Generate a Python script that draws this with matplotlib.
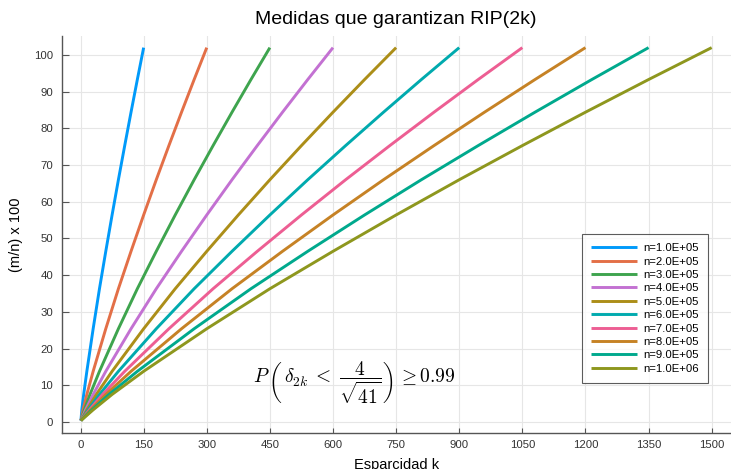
import matplotlib
matplotlib.use("Agg")
import matplotlib.pyplot as plt

# ---- data ----
labels = ["n=1.0E+05", "n=2.0E+05", "n=3.0E+05", "n=4.0E+05", "n=5.0E+05",
          "n=6.0E+05", "n=7.0E+05", "n=8.0E+05", "n=9.0E+05", "n=1.0E+06"]

# (m/n) x 100 levels
y_levels = [0.4, 3.3, 7.5, 13.8, 25.4, 36.3, 46.5, 56.4, 66.0, 75.3, 84.4, 93.3, 102.0]

# sparsity k at which each curve reaches the above levels
k_1e5 = [1, 3, 7.5, 15, 30, 45, 60, 75, 90, 105, 120, 135, 150]
k_2e5 = [1, 6, 15, 30, 60, 90, 120, 150, 180, 210, 240, 270, 300]
k_3e5 = [1, 9, 22.5, 45, 90, 135, 180, 225, 270, 315, 360, 405, 450]
k_4e5 = [1, 12, 30, 60, 120, 180, 240, 300, 360, 420, 480, 540, 600]
k_5e5 = [1, 15, 37.5, 75, 150, 225, 300, 375, 450, 525, 600, 675, 750]
k_6e5 = [1, 18, 45, 90, 180, 270, 360, 450, 540, 630, 720, 810, 900]
k_7e5 = [1, 21, 52.5, 105, 210, 315, 420, 525, 630, 735, 840, 945, 1050]
k_8e5 = [1, 24, 60, 120, 240, 360, 480, 600, 720, 840, 960, 1080, 1200]
k_9e5 = [1, 27, 67.5, 135, 270, 405, 540, 675, 810, 945, 1080, 1215, 1350]
k_1e6 = [1, 30, 75, 150, 300, 450, 600, 750, 900, 1050, 1200, 1350, 1500]

x_ticks = [0, 150, 300, 450, 600, 750, 900, 1050, 1200, 1350, 1500]
y_ticks = [0, 10, 20, 30, 40, 50, 60, 70, 80, 90, 100]

colors = ["#009AFA", "#E36F47", "#3EA44E", "#C371D2", "#AC8E18",
          "#00AAAE", "#ED5E93", "#C68225", "#00A98D", "#8E971E"]

series_k = [k_1e5, k_2e5, k_3e5, k_4e5, k_5e5, k_6e5, k_7e5, k_8e5, k_9e5, k_1e6]

plt.rcParams['font.family'] = ['Liberation Sans', 'DejaVu Sans']
plt.rcParams['mathtext.fontset'] = 'cm'

fig = plt.figure(figsize=(7.31, 4.69), dpi=100)
ax = fig.add_axes([61.6 / 731, 1 - 433.2 / 469, 669 / 731, (433.2 - 36.4) / 469])

for ks, c, lab in zip(series_k, colors, labels):
    ax.plot(ks, y_levels, color=c, lw=2.1, label=lab, solid_capstyle='butt')

ax.set_xlim(-45, 1545)
ax.set_ylim(-3.06, 105.06)
ax.set_xticks(x_ticks)
ax.set_yticks(y_ticks)
ax.grid(True, color='#e6e6e6', lw=0.8)
ax.set_axisbelow(True)

for s in ['top', 'right']:
    ax.spines[s].set_visible(False)
for s in ['left', 'bottom']:
    ax.spines[s].set_color('#555555')
    ax.spines[s].set_linewidth(1.0)

ax.tick_params(axis='y', direction='in', length=5, width=0.8, color='#555555',
               labelsize=8.2, labelcolor='#333333', pad=6)
ax.tick_params(axis='x', direction='in', length=3.5, width=0.8, color='#555555',
               labelsize=8.2, labelcolor='#333333', pad=5)

ax.set_title("Medidas que garantizan RIP(2k)", fontsize=14, pad=9)
ax.set_xlabel("Esparcidad k", fontsize=10.5, labelpad=6)
ax.set_ylabel("(m/n) x 100", fontsize=10.5, labelpad=8)

ax.text(650, 10.8,
        r"$P\,\left(\,\delta_{2k}\;<\;\dfrac{4}{\sqrt{41}}\right)\,\geq 0.99$",
        fontsize=14, ha='center', va='center')

leg = ax.legend(loc='upper right', bbox_to_anchor=(0.966, 0.502), borderaxespad=0,
                fontsize=8.2, frameon=True, fancybox=False, handlelength=4.0,
                labelspacing=0.3, borderpad=0.8, handletextpad=0.55)
leg.get_frame().set_edgecolor('#333333')
leg.get_frame().set_linewidth(0.8)

fig.savefig("out.png", dpi=100)
